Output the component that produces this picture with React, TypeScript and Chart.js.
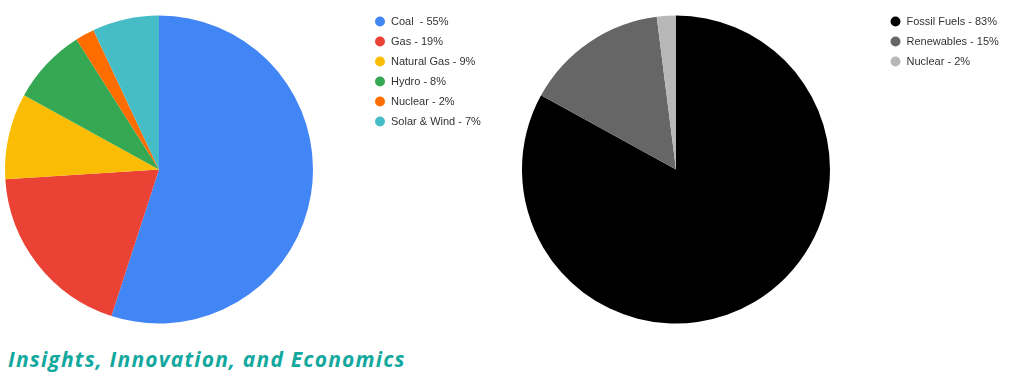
import React, { useEffect, useRef } from "react";
import { Chart, registerables } from "chart.js";

Chart.register(...registerables);

// ---- Data ----
const leftCategories = ["Coal ", "Gas", "Natural Gas", "Hydro", "Nuclear", "Solar & Wind"];
const leftValues = [55, 19, 9, 8, 2, 7];
const leftColors = ["#4285F4", "#EA4335", "#FBBC04", "#34A853", "#FF6D01", "#46BDC6"];

const rightCategories = ["Fossil Fuels", "Renewables", "Nuclear"];
const rightValues = [83, 15, 2];
const rightColors = ["#000000", "#666666", "#B7B7B7"];

const headingText = "Insights, Innovation, and Economics";

const LEGEND_FONT_FAMILY = "'Liberation Sans', Arial, sans-serif";
const LEGEND_FONT_SIZE = 11;
const LEGEND_PAD = 9;

type PieProps = {
  categories: string[];
  values: number[];
  colors: string[];
  left: number; // canvas page-left
  width: number;
  height: number;
  padLeft: number;
  legendLeft: number; // legend box left, in canvas coordinates
  padTop: number;
  padBottom: number;
};

function PieChart({ categories, values, colors, left, width, height, padLeft, legendLeft, padTop, padBottom }: PieProps) {
  const ref = useRef<HTMLCanvasElement | null>(null);
  useEffect(() => {
    if (!ref.current) return;
    const labels = categories.map((c, i) => `${c} - ${values[i]}%`);
    const ctx = ref.current.getContext("2d")!;
    ctx.font = `${LEGEND_FONT_SIZE}px ${LEGEND_FONT_FAMILY}`;
    const maxText = Math.max(...labels.map((l) => ctx.measureText(l).width));
    const legendWidth = LEGEND_PAD + LEGEND_FONT_SIZE + LEGEND_FONT_SIZE / 2 + maxText + 10;
    const padRight = width - legendLeft - legendWidth;
    const chart = new Chart(ref.current, {
      type: "pie",
      data: {
        labels,
        datasets: [
          {
            data: values,
            backgroundColor: colors,
            borderWidth: 0,
          },
        ],
      },
      options: {
        animation: false,
        responsive: false,
        devicePixelRatio: 1,
        radius: 154,
        layout: { padding: { left: padLeft, right: padRight, top: padTop, bottom: padBottom } },
        plugins: {
          tooltip: { enabled: false },
          legend: {
            display: true,
            position: "right",
            align: "start",
            labels: {
              usePointStyle: true,
              pointStyle: "circle",
              boxHeight: 7,
              padding: LEGEND_PAD,
              color: "#333333",
              font: { family: LEGEND_FONT_FAMILY, size: LEGEND_FONT_SIZE },
            },
          },
        },
      },
    });
    return () => chart.destroy();
  }, []);
  return (
    <canvas
      ref={ref}
      width={width}
      height={height}
      style={{ position: "absolute", left, top: 0, width, height }}
    />
  );
}

export default function App() {
  return (
    <div style={{ position: "absolute", left: 0, top: 0, width: 1010, height: 377, overflow: "hidden", background: "#fff" }}>
      <PieChart
        categories={leftCategories}
        values={leftValues}
        colors={leftColors}
        left={-60}
        width={600}
        height={345}
        padLeft={12.5}
        legendLeft={425.5}
        padTop={7}
        padBottom={13}
      />
      <PieChart
        categories={rightCategories}
        values={rightValues}
        colors={rightColors}
        left={460}
        width={620}
        height={345}
        padLeft={11}
        legendLeft={421}
        padTop={7}
        padBottom={13}
      />
      <div
        style={{
          position: "absolute",
          left: 8,
          top: 345,
          fontFamily: "'Open Sans', sans-serif",
          fontWeight: 700,
          fontStyle: "italic",
          fontSize: 21,
          letterSpacing: "1.2px",
          lineHeight: "28px",
          color: "#13A89E",
          whiteSpace: "nowrap",
        }}
      >
        {headingText}
      </div>
    </div>
  );
}
